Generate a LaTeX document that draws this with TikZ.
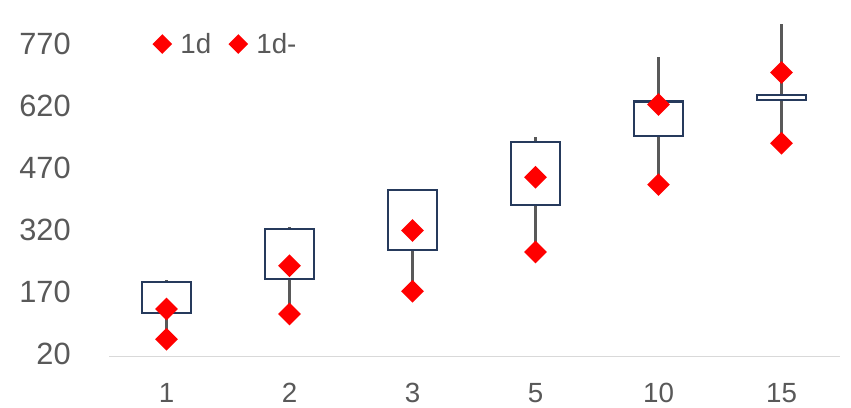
\documentclass[tikz,border=0pt]{standalone}
\usepackage{fontspec}
\setmainfont{Liberation Sans}
\usetikzlibrary{shapes.geometric}
\definecolor{boxblue}{RGB}{38,58,92}
\definecolor{whiskgray}{RGB}{89,89,89}
\definecolor{labelgray}{RGB}{89,89,89}
\definecolor{axisgray}{RGB}{217,217,217}
\tikzset{
  mk/.style={diamond, fill=red, inner sep=0pt, minimum size=0.46cm},
  legmk/.style={diamond, fill=red, inner sep=0pt, minimum size=0.40cm},
  lbl/.style={text=labelgray, inner sep=0pt, font=\fontsize{15.8}{18}\selectfont},
  ylbl/.style={lbl, font=\fontsize{17.5}{20}\selectfont},
}

\begin{document}
\begin{tikzpicture}[x=0.02cm,y=0.008267cm]
  \useasboundingbox (0,-102.2) rectangle (851,882.6);
  \draw[axisgray, line width=1pt] (109,20) coordinate (ax0) -- (840,20) coordinate (ax1);
  \foreach \v in {20,170,...,770}
    \node[ylbl, anchor=east] (yl\v) at (71,\v+7) {\v};
  % x / label / min / q1 / q3 / max / upper mark
  \foreach \x/\c/\lo/\qa/\qb/\hi/\up in {166.5/1/62/126/200/205/135,
      289.5/2/123/207/328/334/240, 412.5/3/178/277/423/423/325,
      535.5/5/273/386/539/550/454, 658.5/10/436/553/637/744/630,
      781.5/15/536/640/653/824/707}{
    \draw[whiskgray, line width=1.2pt] (\x,\lo) -- (\x,\qa) (\x,\qb) -- (\x,\hi);
    \draw[boxblue, line width=1.2pt, fill=white] (\x-24.5,\qa) rectangle (\x+24.5,\qb);
    \node[mk] (up\c) at (\x,\up) {};
    \node[mk] (lo\c) at (\x,\lo) {};
    \node[lbl] (xl\c) at (\x,-68) {\c};
  }
  % legend
  \node[legmk] (leg1) at (162.3,776) {};
  \node[lbl, anchor=west] (legt1) at (180,776) {1d};
  \node[legmk] (leg2) at (238.3,776) {};
  \node[lbl, anchor=west] (legt2) at (256,776) {1d-};
\end{tikzpicture}
\end{document}
